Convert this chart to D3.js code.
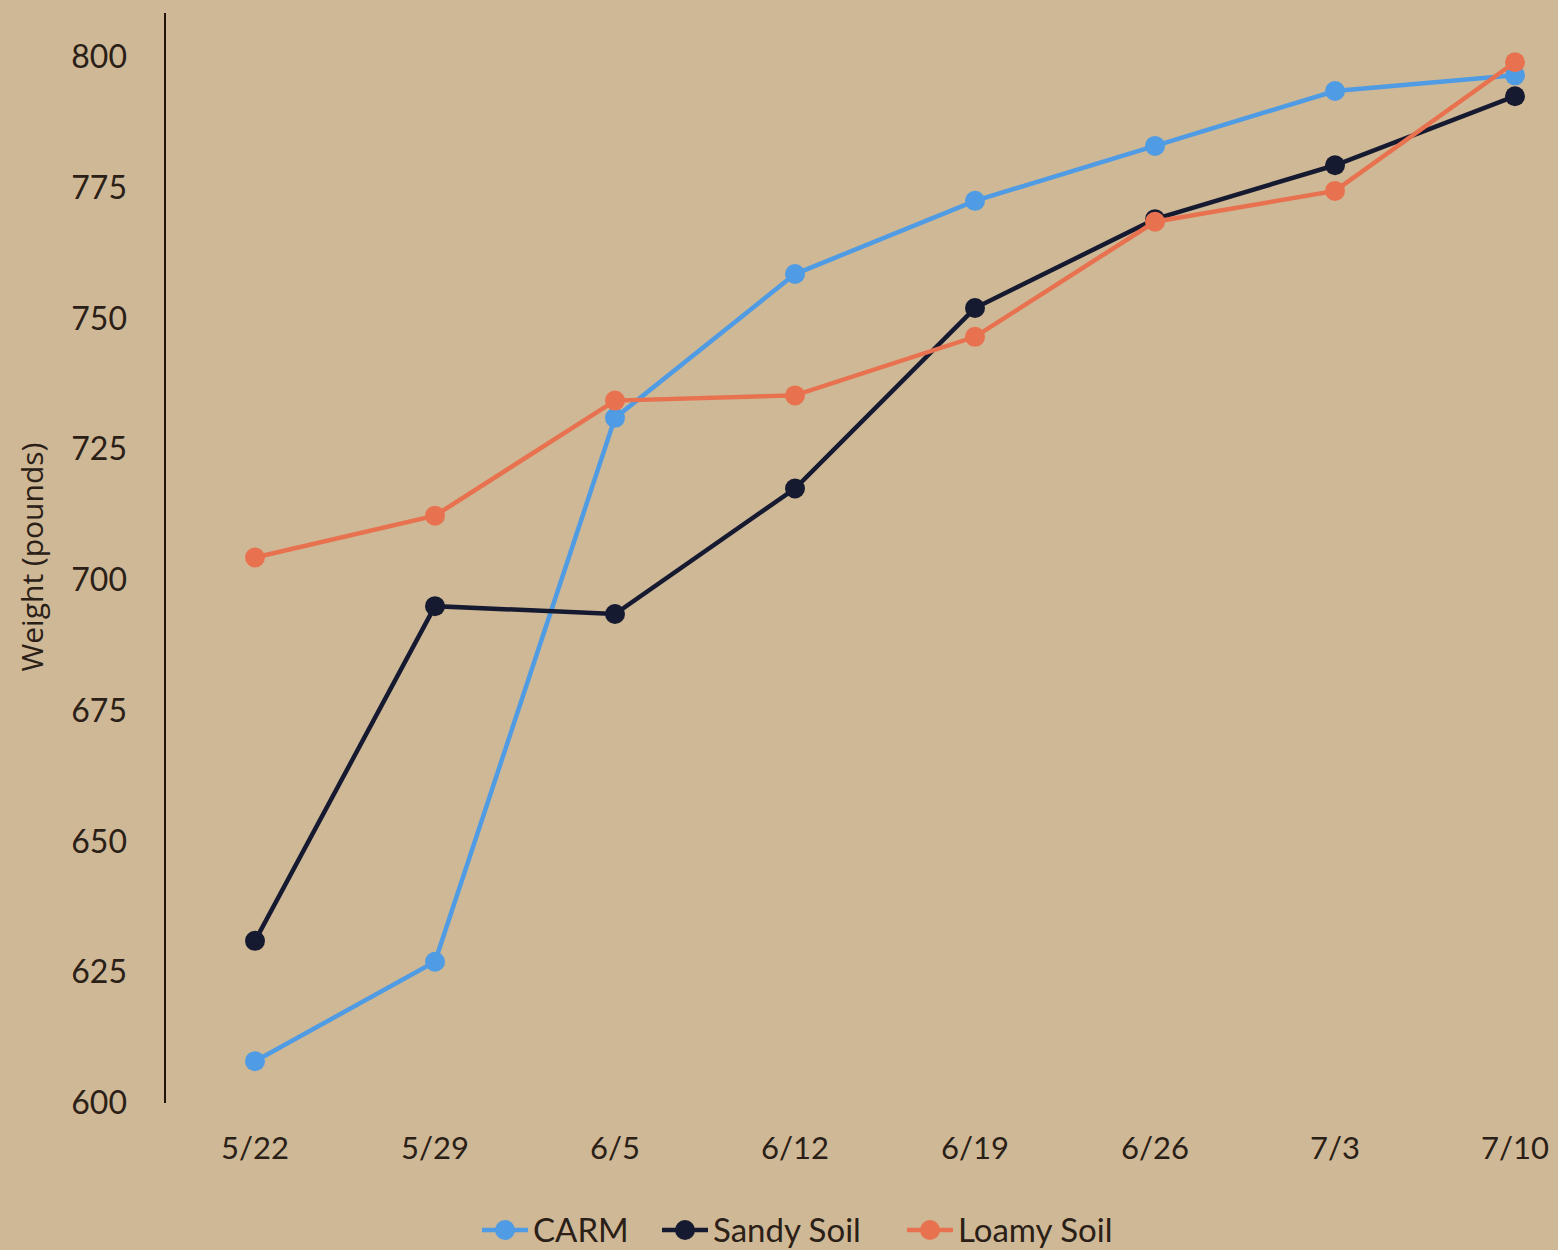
<!DOCTYPE html>
<html><head><meta charset="utf-8">
<script src="https://cdn.jsdelivr.net/npm/d3@7"></script>
<style>
html,body{margin:0;padding:0;background:#cfb895;}
svg{display:block;font-family:Lato,"Open Sans",sans-serif;}
</style></head>
<body>
<svg id="chart" width="1558" height="1250"></svg>
<script>
const categories = ["5/22","5/29","6/5","6/12","6/19","6/26","7/3","7/10"];
const carm  = [608, 627, 731, 758.5, 772.5, 783, 793.5, 796.5];
const sandy = [631, 695, 693.5, 717.5, 752, 769, 779.3, 792.5];
const loamy = [704.3, 712.3, 734.3, 735.3, 746.5, 768.5, 774.4, 799];
const yTicks = [600, 625, 650, 675, 700, 725, 750, 775, 800];
const seriesNames = ["CARM", "Sandy Soil", "Loamy Soil"];
const seriesColors = ["#4f9be4", "#161a31", "#e8724f"];

const series = [carm, sandy, loamy].map((v, i) => ({name: seriesNames[i], color: seriesColors[i], values: v}));

const svg = d3.select("#chart");
const x = d3.scalePoint().domain(categories).range([255, 1515]);
const y = d3.scaleLinear().domain([600, 800]).range([1103, 57]);

// y axis line
svg.append("line").attr("x1", 165).attr("x2", 165).attr("y1", 13).attr("y2", 1103)
  .attr("stroke", "#1e140c").attr("stroke-width", 2);

// y tick labels
svg.append("g").selectAll("text").data(yTicks).join("text")
  .attr("x", 127).attr("y", d => y(d)).attr("dy", "0.35em")
  .attr("text-anchor", "end").attr("font-size", 32).attr("fill", "#2a2017")
  .text(d => d);

// x tick labels
svg.append("g").selectAll("text").data(categories).join("text")
  .attr("x", d => x(d)).attr("y", 1148).attr("dy", "0.35em")
  .attr("text-anchor", "middle").attr("font-size", 31).attr("fill", "#2a2017")
  .text(d => d);

// y axis title
svg.append("text").attr("transform", "translate(43,557) rotate(-90)")
  .attr("text-anchor", "middle").attr("font-size", 30).attr("fill", "#2a2017")
  .attr("font-family", "'Open Sans',sans-serif")
  .text("Weight (pounds)");

const line = d3.line().x((d, i) => x(categories[i])).y(d => y(d));

series.forEach(s => {
  const g = svg.append("g");
  g.append("path").datum(s.values).attr("d", line)
    .attr("fill", "none").attr("stroke", s.color).attr("stroke-width", 4.5);
  g.selectAll("circle").data(s.values).join("circle")
    .attr("cx", (d, i) => x(categories[i])).attr("cy", d => y(d)).attr("r", 10)
    .attr("fill", s.color);
});

// legend
const legendItems = [
  {x: 482, tx: 533},
  {x: 662, tx: 713},
  {x: 907, tx: 958}
];
series.forEach((s, i) => {
  const lx = legendItems[i].x, ly = 1230;
  svg.append("line").attr("x1", lx).attr("x2", lx + 46).attr("y1", ly).attr("y2", ly)
    .attr("stroke", s.color).attr("stroke-width", 4.5);
  svg.append("circle").attr("cx", lx + 23).attr("cy", ly).attr("r", 10).attr("fill", s.color);
  svg.append("text").attr("x", legendItems[i].tx).attr("y", ly).attr("dy", "0.35em")
    .attr("font-size", 33).attr("fill", "#2a2017").text(s.name);
});
</script>
</body></html>
